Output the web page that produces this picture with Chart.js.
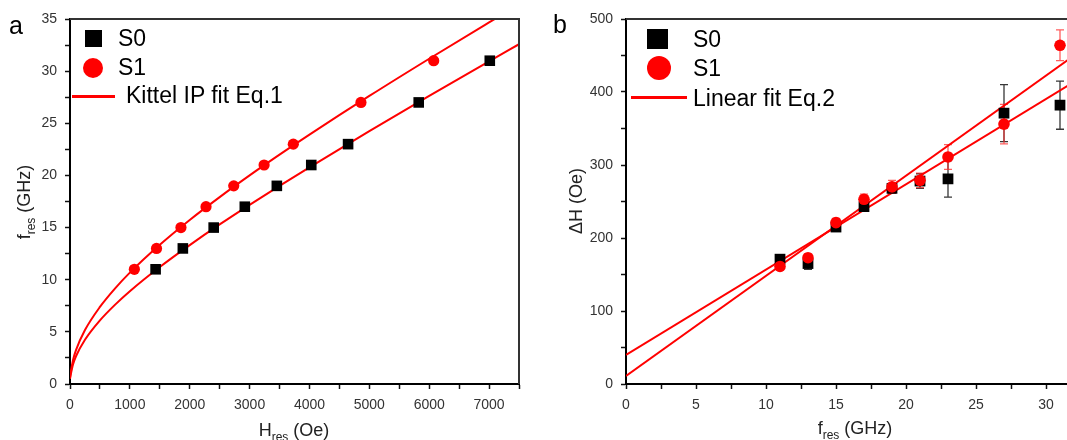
<!DOCTYPE html>
<html>
<head>
<meta charset="utf-8">
<script src="https://cdn.jsdelivr.net/npm/chart.js@4.4.1/dist/chart.umd.min.js"></script>
<style>
html,body{margin:0;padding:0;width:1067px;height:440px;overflow:hidden;background:#fff;}
#wrap{position:relative;width:1067px;height:440px;overflow:hidden;font-family:"Liberation Sans",Arial,sans-serif;color:#111;}
canvas{position:absolute;top:0;}
#c1{left:0;}
#c2{left:560px;}
.t{position:absolute;white-space:nowrap;line-height:1;}
.ax{font-size:18px;color:#222;}
.sub{font-size:12px;position:relative;top:5px;}
.lg{font-size:23px;color:#000;}
.panel{font-size:25px;color:#000;}
.mk{position:absolute;}
</style>
</head>
<body>
<div id="wrap">
  <canvas id="c1" width="540" height="440"></canvas>
  <canvas id="c2" width="600" height="440"></canvas>

  <div class="t panel" style="left:9px;top:13px;">a</div>
  <div class="t panel" style="left:553px;top:12px;">b</div>

  <!-- axis titles -->
  <div class="t ax" style="left:294px;top:421px;transform:translateX(-50%);">H<span class="sub">res</span> (Oe)</div>
  <div class="t ax" style="left:855px;top:419px;transform:translateX(-50%);">f<span class="sub">res</span> (GHz)</div>
  <div class="t ax" style="left:24px;top:202px;transform:translate(-50%,-50%) rotate(-90deg);">f<span class="sub">res</span> (GHz)</div>
  <div class="t ax" style="left:576px;top:201px;transform:translate(-50%,-50%) rotate(-90deg);">ΔH (Oe)</div>

  <!-- legend left -->
  <div class="mk" style="left:85px;top:30px;width:17px;height:17px;background:#000;"></div>
  <div class="t lg" style="left:118px;top:27px;">S0</div>
  <div class="mk" style="left:83px;top:58px;width:20px;height:20px;border-radius:50%;background:#ff0000;"></div>
  <div class="t lg" style="left:118px;top:56px;">S1</div>
  <div class="mk" style="left:72px;top:95px;width:43px;height:3px;background:#ff0000;"></div>
  <div class="t lg" style="left:126px;top:84px;">Kittel IP fit Eq.1</div>

  <!-- legend right -->
  <div class="mk" style="left:647px;top:29px;width:21px;height:20px;background:#000;"></div>
  <div class="t lg" style="left:693px;top:28px;">S0</div>
  <div class="mk" style="left:647px;top:56px;width:24px;height:24px;border-radius:50%;background:#ff0000;"></div>
  <div class="t lg" style="left:693px;top:57px;">S1</div>
  <div class="mk" style="left:631px;top:96px;width:56px;height:3px;background:#ff0000;"></div>
  <div class="t lg" style="left:693px;top:87px;">Linear fit Eq.2</div>
</div>

<script>
// ---------- Panel a data ----------
const a_fres = [11, 13, 15, 17, 19, 21, 23, 27, 31];
const a_H_S0 = [1430, 1885, 2400, 2920, 3455, 4030, 4645, 5825, 7012];
const a_H_S1 = [1075, 1445, 1853, 2272, 2735, 3242, 3730, 4860, 6075];
const a_fitH = [0, 10, 50, 100, 250, 500, 750, 1000, 1500, 2000, 2500, 3000, 3500, 4000, 5000, 6000, 7000, 7500];
const a_fitS0 = [0.5, 0.83, 1.87, 2.66, 4.24, 6.10, 7.59, 8.90, 11.22, 13.32, 15.30, 17.18, 19.00, 20.78, 24.24, 27.62, 30.94, 32.58];
const a_fitS1 = [0.6, 1.02, 2.29, 3.25, 5.17, 7.39, 9.15, 10.68, 13.35, 15.73, 17.92, 20.00, 21.99, 23.91, 27.62, 31.19, 34.67, 36.39];
const a_xTicksMajor = [0, 1000, 2000, 3000, 4000, 5000, 6000, 7000];
const a_yTicksMajor = [0, 5, 10, 15, 20, 25, 30, 35];

// ---------- Panel b data ----------
const b_fres = [11, 13, 15, 17, 19, 21, 23, 27, 31];
const b_dH_S0 = [171, 165, 215, 243, 268, 278, 281, 371, 382];
const b_err_S0 = [4, 8, 5, 6, 6, 10, 25, 39, 33];
const b_dH_S1 = [161, 173, 221, 253, 270, 279, 311, 356, 464];
const b_err_S1 = [4, 5, 6, 7, 9, 10, 17, 27, 21];
const b_fitF = [0, 35];
const b_fitS0 = [40, 449];
const b_fitS1 = [11, 491];
const b_xTicksMajor = [0, 5, 10, 15, 20, 25, 30, 35];
const b_yTicksMajor = [0, 100, 200, 300, 400, 500];

const RED = '#ff0000';
const pts = (xs, ys) => xs.map((x, i) => ({x: x, y: ys[i]}));

const framePlugin = {
  id: 'frame',
  afterDraw(chart) {
    const {ctx, chartArea: a} = chart;
    ctx.save();
    ctx.strokeStyle = '#333';
    ctx.lineWidth = 2;
    ctx.beginPath();
    ctx.moveTo(a.left, a.top);
    ctx.lineTo(a.right, a.top);
    ctx.lineTo(a.right, a.bottom);
    ctx.stroke();
    ctx.restore();
  }
};

const errPlugin = {
  id: 'errbars',
  beforeDatasetsDraw(chart) {
    const {ctx, chartArea: a} = chart;
    const xs = chart.scales.x, ys = chart.scales.y;
    ctx.save();
    ctx.beginPath();
    ctx.rect(a.left, a.top - 2, a.right - a.left, a.bottom - a.top + 2);
    ctx.clip();
    chart.data.datasets.forEach(ds => {
      if (!ds.errors) return;
      ctx.strokeStyle = ds.errorColor;
      ctx.lineWidth = 1.3;
      ds.data.forEach((p, i) => {
        const e = ds.errors[i];
        const px = xs.getPixelForValue(p.x);
        const y1 = ys.getPixelForValue(p.y + e);
        const y2 = ys.getPixelForValue(p.y - e);
        ctx.beginPath();
        ctx.moveTo(px, y1); ctx.lineTo(px, y2);
        ctx.moveTo(px - 4, y1); ctx.lineTo(px + 4, y1);
        ctx.moveTo(px - 4, y2); ctx.lineTo(px + 4, y2);
        ctx.stroke();
      });
    });
    ctx.restore();
  }
};

function axis(min, max, step, majors, fitSize, isX) {
  return {
    type: 'linear',
    min: min, max: max,
    afterFit(s) { if (isX) s.height = fitSize; else s.width = fitSize; },
    ticks: {
      stepSize: step,
      autoSkip: false,
      maxRotation: 0,
      padding: isX ? 8 : 8,
      color: '#333',
      font: {family: 'Liberation Sans', size: 14},
      callback: (v) => majors.includes(v) ? String(v) : ''
    },
    grid: {
      display: true,
      drawOnChartArea: false,
      drawTicks: true,
      tickLength: 5,
      tickColor: '#111',
      tickWidth: 1.5
    },
    border: {display: true, color: '#000', width: 2}
  };
}

const common = (padRight) => ({
  responsive: false,
  animation: false,
  devicePixelRatio: 1,
  events: [],
  layout: {padding: {top: 19, right: padRight, left: 0, bottom: 0}},
  plugins: {legend: {display: false}, tooltip: {enabled: false}, title: {display: false}}
});

// Panel a
new Chart(document.getElementById('c1'), {
  type: 'scatter',
  data: {
    datasets: [
      {label: 'Kittel S0', data: pts(a_fitH, a_fitS0), showLine: true, borderColor: RED, borderWidth: 2, pointRadius: 0, cubicInterpolationMode: 'monotone', order: 3},
      {label: 'Kittel S1', data: pts(a_fitH, a_fitS1), showLine: true, borderColor: RED, borderWidth: 2, pointRadius: 0, cubicInterpolationMode: 'monotone', order: 3},
      {label: 'S0', data: pts(a_H_S0, a_fres), pointStyle: 'rect', pointRadius: 7.5, backgroundColor: '#000', borderColor: '#000', borderWidth: 0, order: 2},
      {label: 'S1', data: pts(a_H_S1, a_fres), pointStyle: 'circle', pointRadius: 5.6, backgroundColor: RED, borderColor: RED, borderWidth: 0, order: 1}
    ]
  },
  options: Object.assign(common(21), {
    scales: {
      x: axis(0, 7500, 500, a_xTicksMajor, 56, true),
      y: axis(0, 35, 2.5, a_yTicksMajor, 70, false)
    }
  }),
  plugins: [framePlugin]
});

// Panel b
new Chart(document.getElementById('c2'), {
  type: 'scatter',
  data: {
    datasets: [
      {label: 'Linear S0', data: pts(b_fitF, b_fitS0), showLine: true, borderColor: RED, borderWidth: 2, pointRadius: 0, order: 3},
      {label: 'Linear S1', data: pts(b_fitF, b_fitS1), showLine: true, borderColor: RED, borderWidth: 2, pointRadius: 0, order: 3},
      {label: 'S0', data: pts(b_fres, b_dH_S0), errors: b_err_S0, errorColor: 'rgba(20,20,20,0.85)', pointStyle: 'rect', pointRadius: 7.6, backgroundColor: '#000', borderColor: '#000', borderWidth: 0, order: 2},
      {label: 'S1', data: pts(b_fres, b_dH_S1), errors: b_err_S1, errorColor: 'rgba(255,40,40,0.75)', pointStyle: 'circle', pointRadius: 5.8, backgroundColor: RED, borderColor: RED, borderWidth: 0, order: 1}
    ]
  },
  options: Object.assign(common(44), {
    scales: {
      x: axis(0, 35, 2.5, b_xTicksMajor, 56, true),
      y: axis(0, 500, 50, b_yTicksMajor, 66, false)
    }
  }),
  plugins: [framePlugin, errPlugin]
});
</script>
</body>
</html>
